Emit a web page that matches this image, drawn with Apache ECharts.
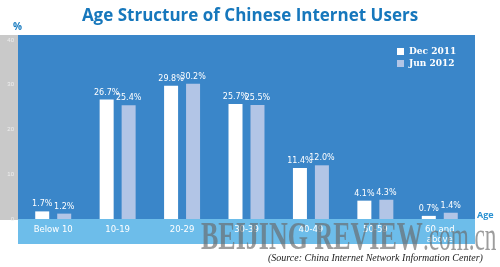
<!DOCTYPE html>
<html><head><meta charset="utf-8">
<script src="https://cdn.jsdelivr.net/npm/echarts@6/dist/echarts.min.js"></script>
<style>html,body{margin:0;padding:0;background:#fff}#c{width:500px;height:267px}</style>
</head><body><div id="c"></div>
<script>
var categories = ['Below 10', '10-19', '20-29', '30-39', '40-49', '50-59', '60 and\nabove'];
var dec2011 = [1.7, 26.7, 29.8, 25.7, 11.4, 4.1, 0.7];
var jun2012 = [1.2, 25.4, 30.2, 25.5, 12.0, 4.3, 1.4];
var seriesNames = ['Dec 2011', 'Jun 2012'];
var yTicks = [0, 10, 20, 30, 40];

var chart = echarts.init(document.getElementById('c'));
var lbl = {show: true, position: 'top', color: '#ffffff', fontSize: 8, fontFamily: 'DejaVu Sans', distance: 3,
  formatter: function (p) { return p.value.toFixed(1) + '%'; }};
chart.setOption({
  animation: false,
  backgroundColor: '#ffffff',
  title: {text: 'Age Structure of Chinese Internet Users', left: 'center', top: 3,
    textStyle: {color: '#1677bc', fontSize: 17, fontWeight: 'bold', fontFamily: 'Open Sans'}},
  graphic: [
    {type: 'rect', shape: {x: 0, y: 35, width: 18, height: 185}, style: {fill: '#c9c9c9'}, z: -10},
    {type: 'rect', shape: {x: 18, y: 35, width: 457, height: 184}, style: {fill: '#3a86c9'}, z: -10},
    {type: 'rect', shape: {x: 18, y: 219, width: 457, height: 25}, style: {fill: '#6dbdea'}, z: -10},
    {type: 'text', left: 13, top: 22, style: {text: '%', fill: '#1a7cc0', font: 'bold 10px Open Sans'}},
    {type: 'text', left: 477, top: 211, style: {text: 'Age', fill: '#2a92d2', font: 'bold 9px Open Sans'}},
    {type: 'text', x: 201, y: 219, scaleX: 0.65, style: {text: 'BEIJING REVIEW', fill: 'rgba(105,105,105,0.65)', font: 'bold 40px Liberation Serif', textVerticalAlign: 'top'}, z: 20},
    {type: 'text', x: 423, y: 219, scaleX: 0.58, style: {text: '.com.cn', fill: 'rgba(105,105,105,0.65)', font: '40px Liberation Serif', textVerticalAlign: 'top'}, z: 20},
    {type: 'text', left: 268, top: 253, style: {text: '(Source: China Internet Network Information Center)', fill: '#222', font: 'italic 10px Liberation Serif'}, z: 21}
  ],
  legend: {data: seriesNames, orient: 'vertical', left: 392, top: 42, itemWidth: 7, itemHeight: 7, itemGap: 3,
    icon: 'rect', textStyle: {color: '#ffffff', fontSize: 9, fontWeight: 'bold', fontFamily: 'DejaVu Serif'}},
  grid: {left: 21, right: 28, top: 40, bottom: 48},
  xAxis: {type: 'category', data: categories, axisLine: {show: false}, axisTick: {show: false},
    axisLabel: {color: '#ffffff', fontSize: 8.5, fontFamily: 'DejaVu Sans', margin: 6, lineHeight: 10}},
  yAxis: {type: 'value', min: yTicks[0], max: yTicks[yTicks.length - 1], interval: 10,
    splitLine: {show: false}, axisLine: {show: false}, axisTick: {show: false},
    axisLabel: {color: '#eeeeee', fontSize: 6, margin: 7}},
  series: [
    {name: seriesNames[0], type: 'bar', data: dec2011, barWidth: 14, barGap: '57%', itemStyle: {color: '#ffffff'}, label: lbl},
    {name: seriesNames[1], type: 'bar', data: jun2012, barWidth: 14, itemStyle: {color: '#b2c5e6'}, label: lbl}
  ]
});
</script></body></html>
